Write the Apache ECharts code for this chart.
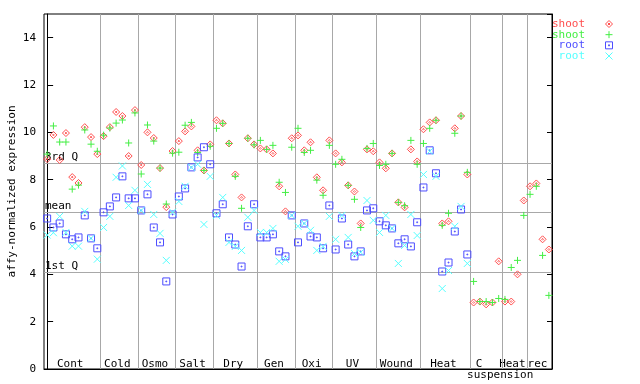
<!DOCTYPE html>
<html><head><meta charset="utf-8">
<script src="https://cdn.jsdelivr.net/npm/echarts@6/dist/echarts.min.js"></script>
<style>html,body{margin:0;padding:0;background:#fff}#c{width:640px;height:384px}</style>
</head><body><div id="c"></div>
<script>
// ---- data ----
const groupNames = ['Cont','Cold','Osmo','Salt','Dry','Gen','Oxi','UV','Wound','Heat','C suspension','Heat','rec'];
const groupSizes = [9,6,6,6,7,6,6,7,7,8,5,4,4];
const seriesNames = ['shoot','shoot','root','root'];
const shootRep1 = [8.87,9.89,8.83,9.97,8.11,7.86,10.22,9.80,9.08,
  9.84,10.22,10.86,10.69,9.00,10.94,
  8.62,10.00,9.76,8.49,6.84,9.21,
  9.63,10.04,10.25,9.24,8.39,9.49,
  10.51,10.38,9.53,8.22,7.25,9.75,9.49,
  9.32,9.28,9.11,7.72,6.66,9.75,
  9.87,9.24,9.58,8.10,7.55,9.66,
  9.11,8.73,7.76,7.50,6.15,9.28,9.20,
  8.73,8.48,9.11,7.04,6.83,9.28,8.77,
  10.13,10.42,10.51,6.15,6.24,10.17,10.69,8.22,
  2.81,2.85,2.73,2.81,4.55,
  2.85,2.85,4.00,7.12,
  7.72,7.84,5.48,5.05];
const shootRep2 = [9.08,10.27,9.59,9.59,7.60,7.77,10.10,9.50,9.20,
  9.88,10.18,10.39,10.52,9.55,10.82,
  8.24,10.31,9.63,8.49,6.97,9.12,
  9.16,10.30,10.42,9.15,8.39,9.41,
  10.17,10.38,9.53,8.14,6.79,9.75,9.47,
  9.66,9.28,9.45,7.89,7.46,9.37,
  10.17,9.15,9.24,7.98,7.34,9.45,
  8.65,8.86,7.76,7.17,5.98,9.32,9.53,
  8.60,8.65,9.11,7.04,6.90,9.66,8.65,
  9.53,10.17,10.51,6.07,6.58,9.96,10.69,8.31,
  3.70,2.85,2.85,2.81,2.98,
  2.94,4.29,4.59,6.49,
  7.38,7.72,4.80,3.11];
const rootRep1 = [6.36,5.98,6.15,5.69,5.48,5.56,6.49,5.52,5.10,
  6.62,6.87,7.25,8.14,7.21,7.21,
  6.70,7.38,5.98,5.35,3.70,6.53,
  7.29,7.63,8.52,8.94,9.37,8.65,
  6.58,6.96,5.56,5.26,4.33,6.03,6.96,
  5.56,5.56,5.69,4.97,4.76,6.49,
  5.35,6.15,5.60,5.56,5.10,6.91,
  5.05,6.36,5.26,4.76,4.97,6.70,6.79,
  6.24,6.07,5.94,5.31,5.48,5.18,6.20,
  7.67,9.24,8.27,4.12,4.50,5.81,6.74,4.84];
const rootRep2 = [5.66,5.76,6.45,5.77,5.19,5.19,6.66,5.52,4.64,
  5.98,6.45,8.10,8.58,6.91,7.55,
  6.70,7.80,6.53,5.73,4.59,6.63,
  7.08,7.72,8.52,8.65,6.11,8.14,
  6.49,7.25,5.35,5.18,5.01,6.41,6.70,
  5.77,5.77,5.94,4.55,4.63,6.49,
  6.03,6.15,5.86,5.01,5.18,6.45,
  5.48,6.49,5.56,4.88,4.93,7.12,6.28,
  5.77,6.49,5.94,4.46,5.22,6.53,5.64,
  8.22,9.20,8.14,3.40,4.16,6.03,6.87,4.46];
const refNames = ['3rd Q','mean','1st Q'];
const refValues = [8.69,6.62,4.08];
const yMin = 0, yMax = 15, yStep = 2;

// ---- style ----
const FONT = 'DejaVu Sans Mono';
const colors = ['#ff4d4d','#44ee44','#4d4dff','#55ffff'];
const shapes = [
  'M4,0 L8,4 L4,8 L0,4 Z M4,3 L5,4 L4,5 L3,4 Z',
  'M0,4 L8,4 M4,0 L4,8',
  'M0,0 L8,0 L8,8 L0,8 Z M3.5,3.5 L4.5,3.5 L4.5,4.5 L3.5,4.5 Z',
  'M0,0 L8,8 M0,8 L8,0'
];
const allSeries = [shootRep1, shootRep2, rootRep1, rootRep2];
const N = groupSizes.reduce((a,b)=>a+b,0);

const boundaries = [];
const centers = [];
let acc = 0;
groupSizes.forEach((s,k)=>{
  centers.push(acc + (s-1)/2);
  acc += s;
  if (k < groupSizes.length-1) boundaries.push(acc - 0.5);
});

function pts(arr){ return arr.map((v,i)=> v==null ? null : [i,v]).filter(Boolean); }

const chart = echarts.init(document.getElementById('c'), null, {renderer:'canvas'});

const series = allSeries.map((arr,k)=>({
  type:'scatter',
  name: seriesNames[k] + '\u200b'.repeat(k),
  data: pts(arr),
  symbol: 'path://' + shapes[k],
  symbolSize: 7,
  z: 2 + k,
  silent: true,
  itemStyle: {color:'rgba(0,0,0,0)', borderColor: colors[k], borderWidth: 1, opacity: 1},
  emphasis: {disabled:true}
}));
series[0].markLine = {
  silent: true, symbol: 'none', z: 1, animation:false,
  lineStyle: {color:'#a8a8a8', type:'solid', width:1},
  label: {show:false},
  data: boundaries.map(b=>({xAxis:b})).concat(refValues.map((v,k)=>({
    yAxis: v,
    label: {show:true, formatter: refNames[k], position:'insideStartTop', distance:[1,1],
            color:'#000', fontFamily:FONT, fontSize:11}
  })))
};

chart.setOption({
  animation: false,
  backgroundColor: '#fff',
  grid: {left:44, right:88, top:14, bottom:15, show:true, borderColor:'#000', borderWidth:1,
         backgroundColor:'transparent', containLabel:false, outerBoundsMode:'none'},
  xAxis: {type:'value', min:-0.5, max:N-0.5, axisLine:{lineStyle:{color:'#000'}},
          axisTick:{show:false}, axisLabel:{show:false}, splitLine:{show:false}},
  yAxis: [
    {type:'value', min:yMin, max:yMax, interval:yStep, position:'left',
     name:'affy-normalized expression', nameLocation:'middle', nameGap:26, nameRotate:90,
     nameMoveOverlap:false,
     nameTextStyle:{fontFamily:FONT, fontSize:11, color:'#000'},
     axisLine:{show:true, lineStyle:{color:'#000'}},
     axisTick:{show:true, inside:true, length:6, lineStyle:{color:'#000'}},
     axisLabel:{fontFamily:FONT, fontSize:11, color:'#000', margin:8, showMaxLabel:false},
     splitLine:{show:false}},
    {type:'value', min:yMin, max:yMax, interval:yStep, position:'right',
     axisLine:{show:true, lineStyle:{color:'#000'}},
     axisTick:{show:true, inside:true, length:5, lineStyle:{color:'#000'}},
     axisLabel:{show:false}, splitLine:{show:false}}
  ],
  series: series
});

// ---- group labels & legend ----
const g = [];
const yBottom = chart.convertToPixel({yAxisIndex:0}, yMin);
const txt = (text,x,y,fill,align)=>({type:'text', x:x, y:y, silent:true,
  style:{text:text, font:'11px '+FONT, fill:fill, align:align, verticalAlign:'middle'}});
groupNames.forEach((nm,k)=>{
  const cx = chart.convertToPixel({xAxisIndex:0}, centers[k]);
  const parts = nm.split(' ');
  if (parts.length > 1) {
    g.push(txt(parts[0], cx - 7, yBottom - 4.5, '#000', 'center'));
    g.push(txt(parts.slice(1).join(' '), cx + 14, yBottom + 6, '#000', 'center'));
  } else {
    g.push(txt(nm, cx - 2, yBottom - 4.5, '#000', 'center'));
  }
});
const legendTop = 24, legendStep = 10.67, legendTextRight = 585, legendIconX = 609;
function icon(k, cx, cy){
  const st = {stroke:colors[k], fill:'none', lineWidth:1};
  const h = 3.5;
  const line = (x1,y1,x2,y2)=>({type:'line', silent:true, shape:{x1:x1,y1:y1,x2:x2,y2:y2}, style:st});
  if (k===0) return [{type:'polygon', silent:true, shape:{points:[[cx,cy-h],[cx+h,cy],[cx,cy+h],[cx-h,cy]]}, style:st},
                     {type:'polygon', silent:true, shape:{points:[[cx,cy-1],[cx+1,cy],[cx,cy+1],[cx-1,cy]]}, style:st}];
  if (k===1) return [line(cx-h,cy,cx+h,cy), line(cx,cy-h,cx,cy+h)];
  if (k===2) return [{type:'rect', silent:true, shape:{x:cx-h,y:cy-h,width:2*h,height:2*h}, style:st},
                     {type:'rect', silent:true, shape:{x:cx-0.5,y:cy-0.5,width:1,height:1}, style:st}];
  return [line(cx-h,cy-h,cx+h,cy+h), line(cx-h,cy+h,cx+h,cy-h)];
}
seriesNames.forEach((nm,k)=>{
  const y = legendTop + k*legendStep;
  g.push(txt(nm, legendTextRight, y, colors[k], 'right'));
  icon(k, legendIconX, y).forEach(e=>g.push(e));
});
chart.setOption({graphic: g});
</script>
</body></html>
